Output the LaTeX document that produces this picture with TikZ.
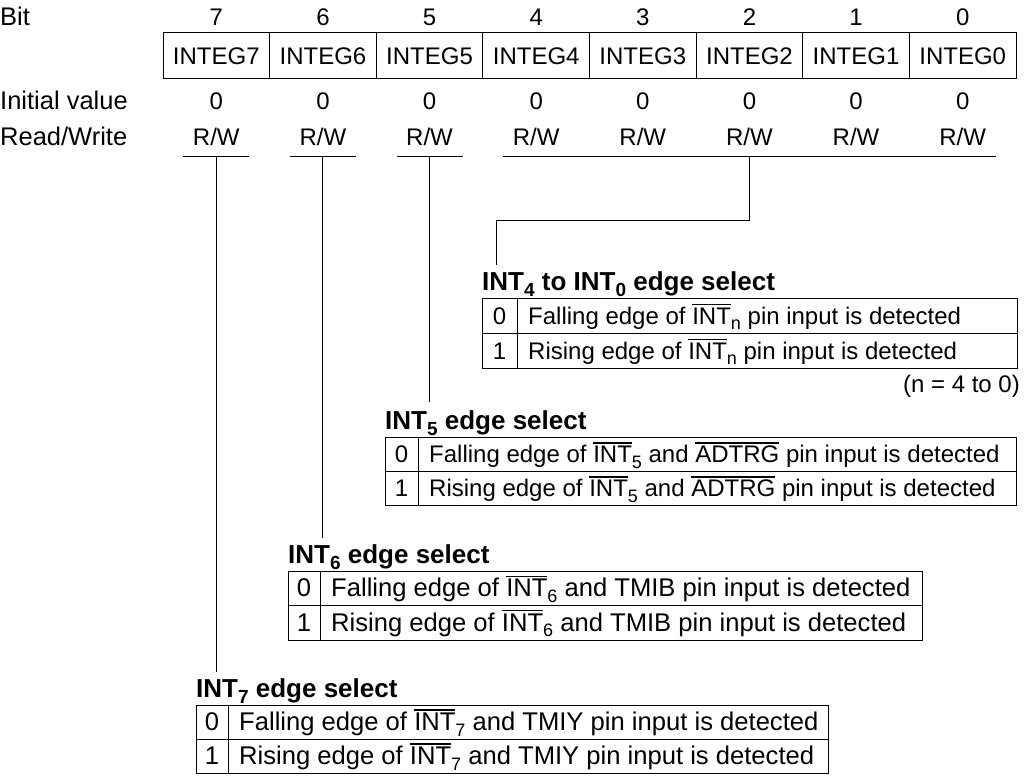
\documentclass[tikz,border=0pt]{standalone}
\usepackage{fontspec}
\setmainfont{Liberation Sans}
\newcommand{\ovl}[1]{\leavevmode\vbox{\hrule height 1.3pt\kern 2.4pt\hbox{#1}}}
\newcommand{\sbs}[1]{\raisebox{-5.5pt}{\fontsize{18}{18}\selectfont #1}}
\newcommand{\sbsb}[1]{\raisebox{-6pt}{\fontsize{19}{19}\selectfont #1}}
\def\tfs{24}
\tikzset{
  ln/.style={line width=1pt},
  txt/.style={anchor=base, font=\fontsize{\tfs}{28}\selectfont, inner sep=0pt},
  txtw/.style={anchor=base west, font=\fontsize{\tfs}{28}\selectfont, inner sep=0pt},
  hdr/.style={anchor=base west, font=\fontsize{25.5}{28}\selectfont, inner sep=0pt},
  lbl/.style={anchor=base west, font=\fontsize{26}{28}\selectfont\bfseries, inner sep=0pt},
  cell/.style={draw, line width=1pt, minimum width=106.625pt, minimum height=46pt, inner sep=0pt, font=\fontsize{24}{28}\selectfont}
}
% name, L, D, R, T, H, label, row0, row1
\newcommand{\edgetable}[9]{%
  \draw[ln] (#2,#5) rectangle (#4,#5+2*#6);
  \draw[ln] (#2,#5+#6) -- (#4,#5+#6);
  \draw[ln] (#3,#5) -- (#3,#5+2*#6);
  \node[lbl] (#1lbl) at (#2,#5-8) {#7};
  \node[txt] (#1d0) at ({(#2+#3)/2},#5+0.5*#6+8.7) {0};
  \node[txt] (#1d1) at ({(#2+#3)/2},#5+1.5*#6+8.7) {1};
  \node[txtw] (#1r0) at (#3+11,#5+0.5*#6+8.7) {#8};
  \node[txtw] (#1r1) at (#3+11,#5+1.5*#6+8.7) {#9};
}
\begin{document}
\begin{tikzpicture}[x=1pt,y=-1pt]
\useasboundingbox (0,0) rectangle (1027,781);
\node[hdr] (bitlbl) at (0,26) {Bit};
\node[hdr] (ivlbl) at (0,110) {Initial value};
\node[hdr] (rwlbl) at (0,146) {Read/Write};
\foreach \i in {7,...,0} {
  \pgfmathsetmacro\cx{163+(7-\i+0.5)*106.625}
  \node[txt] (b\i) at (\cx,26) {\i};
  \node[cell] (r\i) at (\cx,56) {INTEG\i};
  \node[txt] (i\i) at (\cx,110) {0};
  \node[txt] (w\i) at (\cx,146) {R/W};
}
% underlines
\coordinate (u7) at (216.3,156);
\coordinate (u6) at (322.9,156);
\coordinate (u5) at (429.5,156);
\coordinate (u2) at (749.3,156);
\draw[ln] (183.3,156) -- (249.3,156);
\draw[ln] (289.9,156) -- (355.9,156);
\draw[ln] (396.5,156) -- (462.5,156);
\draw[ln] (503.1,156) -- (995.5,156);
% tables
\edgetable{ta}{482}{517}{1017}{298}{35}{INT\sbsb{4} to INT\sbsb{0} edge select}
  {Falling edge of \ovl{INT}\sbs{n} pin input is detected}
  {Rising edge of \ovl{INT}\sbs{n} pin input is detected}
\node[anchor=base east, font=\fontsize{24}{28}\selectfont, inner sep=0pt] (note) at (1020,392) {(n = 4 to 0)};
\edgetable{tb}{385}{418}{1016}{437}{34}{INT\sbsb{5} edge select}
  {Falling edge of \ovl{INT}\sbs{5} and \ovl{ADTRG} pin input is detected}
  {Rising edge of \ovl{INT}\sbs{5} and \ovl{ADTRG} pin input is detected}
\def\tfs{25.6}
\edgetable{tc}{288}{320}{922}{571}{34.5}{INT\sbsb{6} edge select}
  {Falling edge of \ovl{INT}\sbs{6} and TMIB pin input is detected}
  {Rising edge of \ovl{INT}\sbs{6} and TMIB pin input is detected}
\edgetable{td}{196}{228}{828}{705}{34}{INT\sbsb{7} edge select}
  {Falling edge of \ovl{INT}\sbs{7} and TMIY pin input is detected}
  {Rising edge of \ovl{INT}\sbs{7} and TMIY pin input is detected}
% connectors
\coordinate (e7) at (216.3,672);
\coordinate (e6) at (322.9,538);
\coordinate (e5) at (429.5,402);
\coordinate (k1) at (749.3,220);
\coordinate (k2) at (496,220);
\coordinate (e2) at (496,265);
\draw[ln] (u7) -- (e7);
\draw[ln] (u6) -- (e6);
\draw[ln] (u5) -- (e5);
\draw[ln] (u2) -- (k1) -- (k2) -- (e2);
\end{tikzpicture}
\end{document}
